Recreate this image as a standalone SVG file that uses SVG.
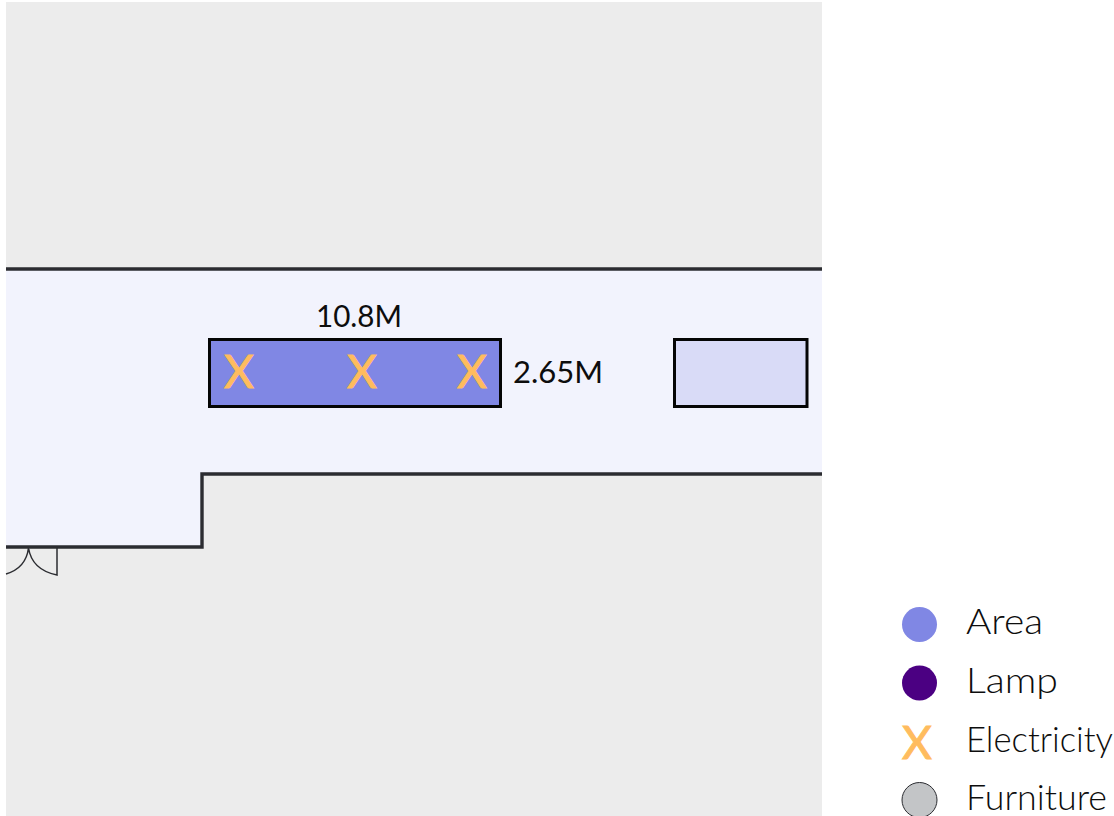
<svg xmlns="http://www.w3.org/2000/svg" width="1114" height="816" viewBox="0 0 1114 816">
<style>
text{font-family:"Lato","Liberation Sans",sans-serif;fill:#0d0d0d}
.dim{font-size:30px}
.leg{font-size:35px;font-weight:300}
.x{font-size:46px;font-weight:400;fill:#ffbc5e;stroke:#ffbc5e;stroke-width:1;text-anchor:middle;font-family:"Lato","Liberation Sans",sans-serif}
.wall{fill:none;stroke:#2b2c31;stroke-width:3.400}
.door{fill:none;stroke:#2b2c31;stroke-width:1.500}
.box{stroke:#050505;stroke-width:3}
</style>
<rect width="1114" height="816" fill="#fff"/>
<rect id="floor" x="6" y="2" width="816" height="814" fill="#ececec"/>
<path id="corridor" d="M6 269H822V474H202V547H6Z" fill="#f2f3fd"/>
<g id="walls">
<path class="wall" d="M6 269H822"/>
<path class="wall" d="M822 474H202V547H6"/>
<path class="door" d="M28.500 548Q32 570 57 575V548M28.500 548Q26 568 6 574"/>
</g>
<g id="area-main">
<rect class="box" x="209.500" y="339.500" width="291" height="67" fill="#8087e4"/>
<text class="x" x="239" y="388">X</text>
<text class="x" x="362" y="388">X</text>
<text class="x" x="472" y="388">X</text>
</g>
<g id="area-furniture"><rect class="box" x="674.500" y="339.500" width="132.500" height="67" fill="#d9dbf7"/></g>
<text id="width-label" class="dim" x="316" y="327" textLength="86" lengthAdjust="spacingAndGlyphs">10.8M</text>
<text id="height-label" class="dim" x="513" y="383" textLength="90" lengthAdjust="spacingAndGlyphs">2.65M</text>
<g id="legend">
<g id="legend-area"><circle cx="919.500" cy="624.500" r="17.500" fill="#8087e4"/><text class="leg" x="966" y="634" textLength="77" lengthAdjust="spacingAndGlyphs">Area</text></g>
<g id="legend-lamp"><circle cx="919.500" cy="683" r="17.500" fill="#4b0082"/><text class="leg" x="966" y="693" textLength="92" lengthAdjust="spacingAndGlyphs">Lamp</text></g>
<g id="legend-electricity"><text class="x" x="917" y="759">X</text><text class="leg" x="966" y="752" textLength="147" lengthAdjust="spacingAndGlyphs">Electricity</text></g>
<g id="legend-furniture"><circle cx="919.500" cy="800" r="17.500" fill="#c3c5c7" stroke="#2b2c31" stroke-width="1"/><text class="leg" x="966" y="810" textLength="141" lengthAdjust="spacingAndGlyphs">Furniture</text></g>
</g>
</svg>
